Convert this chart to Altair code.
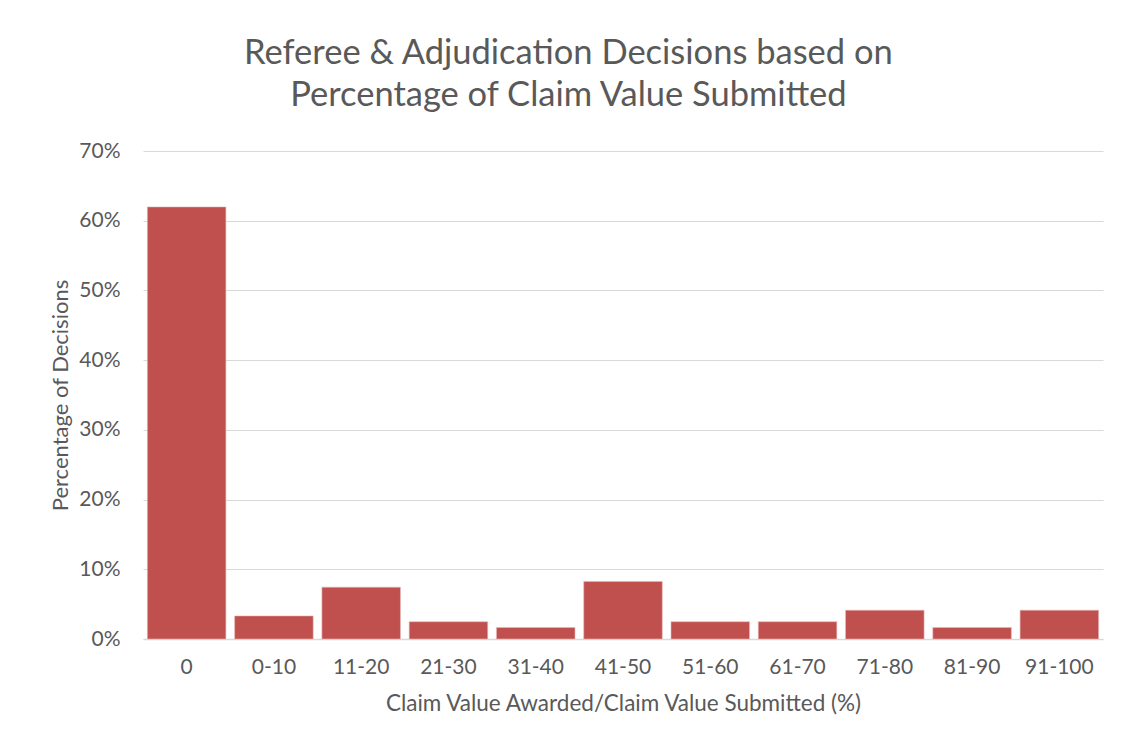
import altair as alt
import pandas as pd

categories = ["0", "0-10", "11-20", "21-30", "31-40", "41-50", "51-60", "61-70", "71-80", "81-90", "91-100"]
percentages = [0.6198, 0.0331, 0.0744, 0.0248, 0.0165, 0.0826, 0.0248, 0.0248, 0.0413, 0.0165, 0.0413]

df = pd.DataFrame({"range": categories, "pct": percentages})

FONT = "Lato"
TXT = "#595959"

chart = alt.Chart(df).mark_bar(color="#C0504D", stroke="#E6B9B8", strokeWidth=0.6).encode(
    x=alt.X("range:N", sort=categories,
            scale=alt.Scale(paddingInner=0.1, paddingOuter=0.05),
            axis=alt.Axis(title="Claim Value Awarded/Claim Value Submitted (%)", labelAngle=0,
                          labelPadding=17, titlePadding=15, ticks=False,
                          domainColor="#D9D9D9", domainWidth=1.5,
                          labelFontSize=21, titleFontSize=22.5)),
    y=alt.Y("pct:Q", scale=alt.Scale(domain=[0, 0.7]),
            axis=alt.Axis(title="Percentage of Decisions", format=".0%", values=[0, 0.1, 0.2, 0.3, 0.4, 0.5, 0.6, 0.7],
                          domain=False, ticks=False, labelPadding=23, titlePadding=6,
                          gridColor="#D9D9D9", gridWidth=1.2,
                          labelFontSize=21, titleFontSize=22)),
).properties(
    width=960,
    height=488,
    padding={"left": 41, "top": 27, "right": 14, "bottom": 5},
    title=alt.TitleParams(
        text=["Referee & Adjudication Decisions based on", "Percentage of Claim Value Submitted"],
        fontSize=34.5, font=FONT, color=TXT, fontWeight="normal", lineHeight=42,
        anchor="middle", frame="bounds", offset=27, dx=-8,
    ),
).configure_axis(
    labelFont=FONT, titleFont=FONT, labelColor=TXT, titleColor=TXT, titleFontWeight="normal",
).configure_view(stroke=None)

chart.save("out.html", embed_options={"renderer": "svg", "actions": False})
